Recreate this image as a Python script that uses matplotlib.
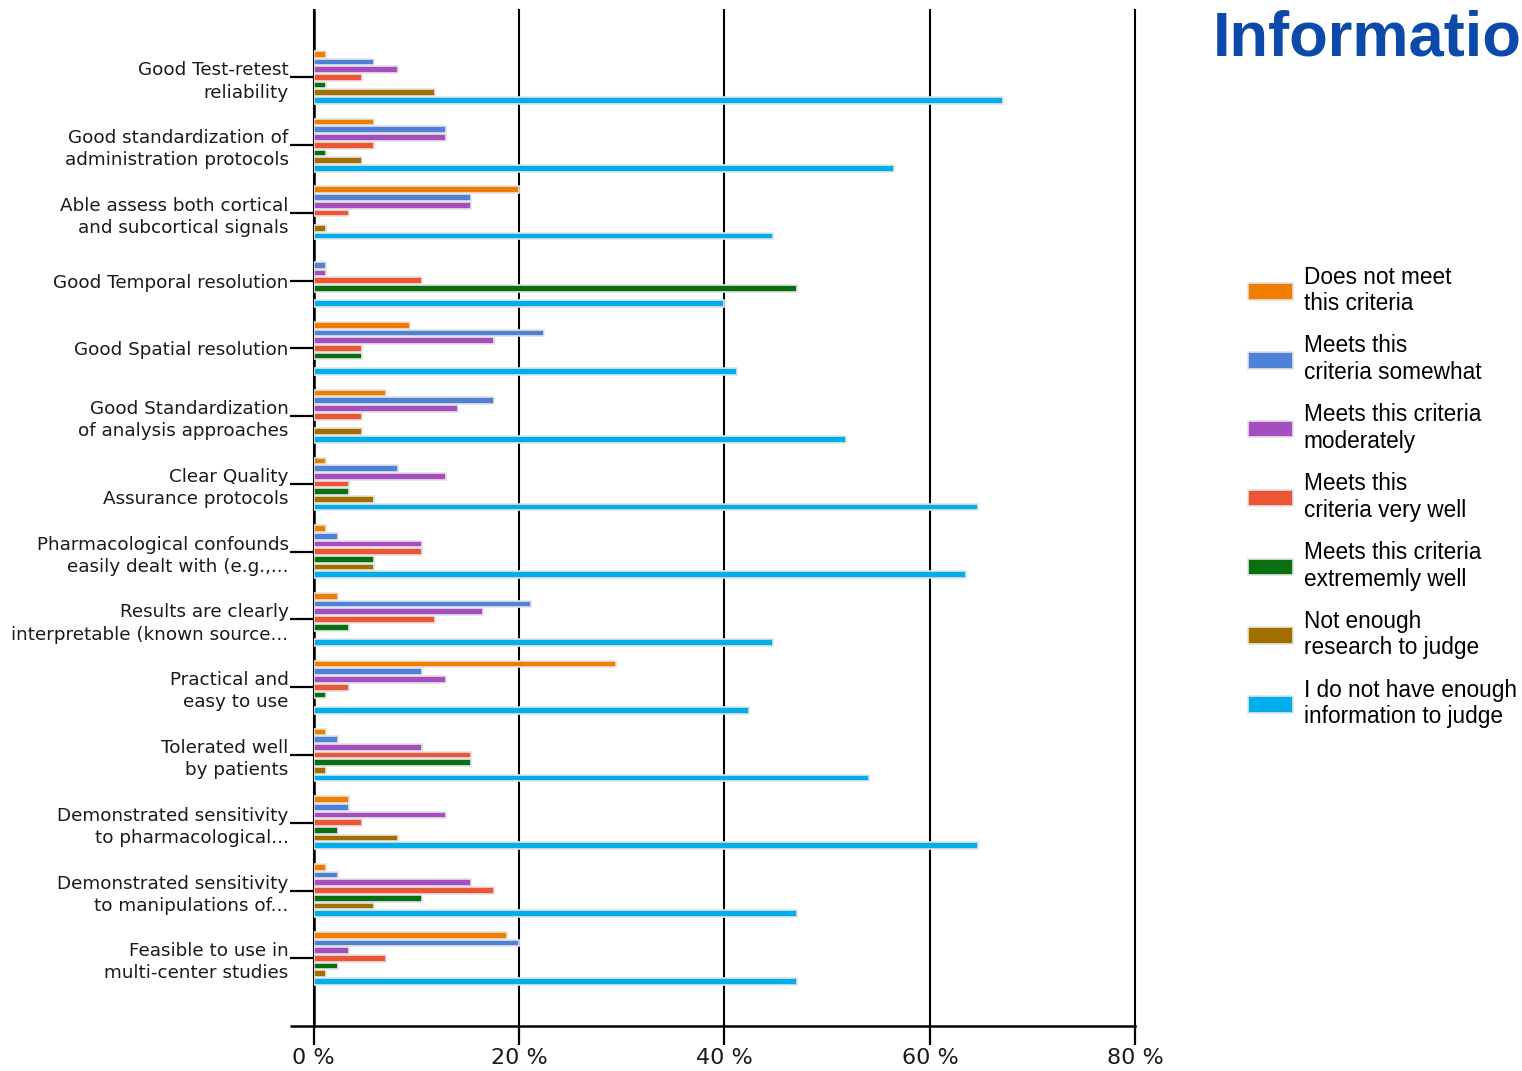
import numpy as np
import matplotlib
matplotlib.use('Agg')
import matplotlib.pyplot as plt

# criteria (y categories), top to bottom
criteria = [
    'Good Test-retest\nreliability',
    'Good standardization of\nadministration protocols',
    'Able assess both cortical\nand subcortical signals',
    'Good Temporal resolution',
    'Good Spatial resolution',
    'Good Standardization\nof analysis approaches',
    'Clear Quality\nAssurance protocols',
    'Pharmacological confounds\neasily dealt with (e.g.,...',
    'Results are clearly\ninterpretable (known source...',
    'Practical and\neasy to use',
    'Tolerated well\nby patients',
    'Demonstrated sensitivity\nto pharmacological...',
    'Demonstrated sensitivity\nto manipulations of...',
    'Feasible to use in\nmulti-center studies',
]

answers = [
    'Does not meet\nthis criteria',
    'Meets this\ncriteria somewhat',
    'Meets this criteria\nmoderately',
    'Meets this\ncriteria very well',
    'Meets this criteria\nextrememly well',
    'Not enough\nresearch to judge',
    'I do not have enough\ninformation to judge',
]

# percent of respondents, one list per answer (same order as criteria)
does_not_meet = [1.2, 5.9, 20.0, 0.0, 9.4, 7.1, 1.2, 1.2, 2.4, 29.4, 1.2, 3.5, 1.2, 18.8]
somewhat      = [5.9, 12.9, 15.3, 1.2, 22.4, 17.6, 8.2, 2.4, 21.2, 10.6, 2.4, 3.5, 2.4, 20.0]
moderately    = [8.2, 12.9, 15.3, 1.2, 17.6, 14.1, 12.9, 10.6, 16.5, 12.9, 10.6, 12.9, 15.3, 3.5]
very_well     = [4.7, 5.9, 3.5, 10.6, 4.7, 4.7, 3.5, 10.6, 11.8, 3.5, 15.3, 4.7, 17.6, 7.1]
extremely     = [1.2, 1.2, 0.0, 47.1, 4.7, 0.0, 3.5, 5.9, 3.5, 1.2, 15.3, 2.4, 10.6, 2.4]
not_research  = [11.8, 4.7, 1.2, 0.0, 0.0, 4.7, 5.9, 5.9, 0.0, 0.0, 1.2, 8.2, 5.9, 1.2]
no_info       = [67.1, 56.5, 44.7, 40.0, 41.2, 51.8, 64.7, 63.5, 44.7, 42.4, 54.1, 64.7, 47.1, 47.1]

series = [does_not_meet, somewhat, moderately, very_well, extremely, not_research, no_info]
colors = ['#ef7d00', '#4f81d8', '#a64dbf', '#ee5535', '#0a700f', '#a06f00', '#00aeec']

x_ticks = [0, 20, 40, 60, 80]
x_labels = ['0 %', '20 %', '40 %', '60 %', '80 %']

fig = plt.figure(figsize=(15.22, 10.71), dpi=100)
ax = fig.add_axes([0.206, 0.042, 0.540, 0.949])

y = np.arange(len(criteria))
slot = 0.1136
for i, (vals, col, lab) in enumerate(zip(series, colors, answers)):
    lw = [1.2 if v > 0 else 0 for v in vals]
    ax.barh(y + (i - 3) * slot, vals, height=slot * 0.87, color=col,
            edgecolor='#e4e4e4', linewidth=lw, label=lab, zorder=3)

ax.set_xlim(0, 80)
ax.set_ylim(len(criteria), -1)
ax.set_yticks(y)
ax.set_yticklabels(criteria, fontsize=13.2, color='#1a1a1a',
                   family='DejaVu Sans', linespacing=1.3)
# bottom corner: the x axis line runs a little past the y axis
ax.set_yticks([len(criteria)], minor=True)
ax.set_xticks(x_ticks)
ax.set_xticklabels(x_labels, fontsize=16, color='#1a1a1a')
ax.tick_params(axis='y', length=17, width=1.6, pad=1)
ax.tick_params(axis='y', which='minor', length=17, width=1.8)
ax.tick_params(axis='x', length=14, width=1.6, pad=2)
ax.grid(axis='x', color='black', linewidth=1.5, zorder=1)
for gl in ax.get_xgridlines():
    gl.set_clip_on(False)
ax.set_axisbelow(True)
for s in ['top', 'right']:
    ax.spines[s].set_visible(False)
for s in ['left', 'bottom']:
    ax.spines[s].set_linewidth(1.8)

fig.legend(loc='center left', bbox_to_anchor=(0.82, 0.536), frameon=False,
           handlelength=2.0, handleheight=0.75, handletextpad=0.45,
           labelspacing=0.85, borderpad=0, borderaxespad=0,
           prop={'family': 'Liberation Sans', 'size': 16.3})

fig.text(0.797, 0.991, 'Informatio', fontsize=45.5, fontweight='bold',
         color='#0b4aab', family='Liberation Sans', va='top', ha='left')

fig.savefig('out.png', dpi=100)
